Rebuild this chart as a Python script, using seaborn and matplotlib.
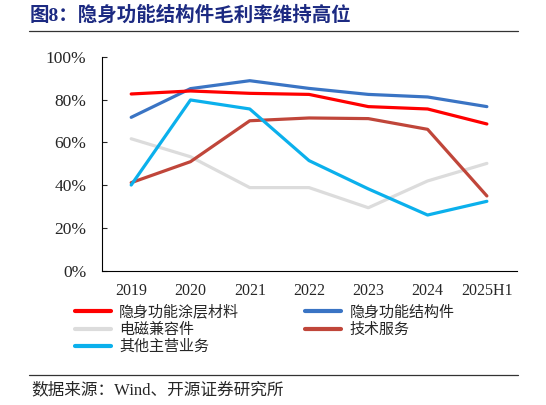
import pandas as pd
import matplotlib
matplotlib.use("Agg")
import matplotlib.pyplot as plt
import seaborn as sns
from matplotlib.lines import Line2D
from matplotlib.ticker import FixedLocator, PercentFormatter

years = ["2019", "2020", "2021", "2022", "2023", "2024", "2025H1"]
coating = [82.6, 84.0, 82.9, 82.4, 76.7, 75.6, 68.6]
structure = [71.7, 85.1, 88.8, 85.2, 82.4, 81.2, 76.7]
emc = [61.7, 53.3, 38.9, 38.9, 29.5, 42.0, 50.2]
service = [41.2, 51.0, 70.1, 71.4, 71.1, 66.1, 35.0]
other = [40.1, 79.8, 75.6, 51.5, 38.3, 26.1, 32.5]

names = ["隐身功能涂层材料", "隐身功能结构件", "电磁兼容件", "技术服务", "其他主营业务"]
colors = ["#FF0000", "#3A74C4", "#DCDCDC", "#C0463A", "#0BB0EC"]

df = pd.DataFrame({"year": years, names[0]: coating, names[1]: structure,
                   names[2]: emc, names[3]: service, names[4]: other})
long_df = df.melt(id_vars="year", var_name="series", value_name="value")
long_df["x"] = long_df["year"].map({y: i for i, y in enumerate(years)})

sns.set_style("white")
serif_cjk = ["Liberation Serif", "Noto Sans CJK SC"]
plt.rcParams["font.family"] = serif_cjk

fig = plt.figure(figsize=(5.46, 4.05), dpi=100)
ax = fig.add_axes([0.186, 0.331, 0.760, 0.529])

# 灰色线先画，放在下面
order = [names[2], names[3], names[1], names[0], names[4]]
sns.lineplot(data=long_df, x="x", y="value", hue="series", hue_order=order,
             palette=dict(zip(names, colors)), linewidth=2.3, legend=False,
             sort=False, ax=ax)

ax.set_xlim(-0.5, 6.5)
ax.set_ylim(0, 100)
ax.set_xticks(range(len(years)))
ax.set_xticklabels(years)
ax.xaxis.set_minor_locator(FixedLocator([i + 0.5 for i in range(6)]))
ax.yaxis.set_major_formatter(PercentFormatter(decimals=0))
ax.set_yticks(range(0, 101, 20))
ax.set_xlabel("")
ax.set_ylabel("")

for s in ["top", "right"]:
    ax.spines[s].set_visible(False)
for s in ["left", "bottom"]:
    ax.spines[s].set_color("black")
    ax.spines[s].set_linewidth(0.8)

ax.tick_params(axis="x", which="major", length=0, pad=9, labelsize=11.5)
ax.tick_params(axis="x", which="minor", direction="in", length=3.5, width=0.8, color="black")
ax.tick_params(axis="y", direction="in", length=3.5, width=0.8, pad=11, labelsize=12.5, left=True)

# 图例，两列
leg_order = [0, 2, 4, 1, 3]
handles = [Line2D([], [], color=colors[i], linewidth=3) for i in leg_order]
labels = [names[i] for i in leg_order]
fig.legend(handles, labels, loc="upper left", bbox_to_anchor=(0.137, 0.248),
           ncol=2, frameon=False, handlelength=2.4,
           handletextpad=0.55, columnspacing=4.4, labelspacing=0.22,
           borderpad=0, borderaxespad=0, prop={"family": serif_cjk, "size": 10.8})

fig.text(0.055, 1 - 15 / 405, "图8：隐身功能结构件毛利率维持高位", fontsize=14,
         fontweight="bold", color="#1C2A82", va="center", ha="left")
fig.add_artist(Line2D([29 / 546, 518 / 546], [1 - 31 / 405, 1 - 31 / 405],
                      color="#333333", linewidth=0.9))
fig.add_artist(Line2D([29 / 546, 518 / 546], [1 - 375 / 405, 1 - 375 / 405],
                      color="#333333", linewidth=0.9))
fig.text(0.057, 1 - 390 / 405, "数据来源：Wind、开源证券研究所", fontsize=12,
         va="center", ha="left")

fig.savefig("out.png", dpi=100)
